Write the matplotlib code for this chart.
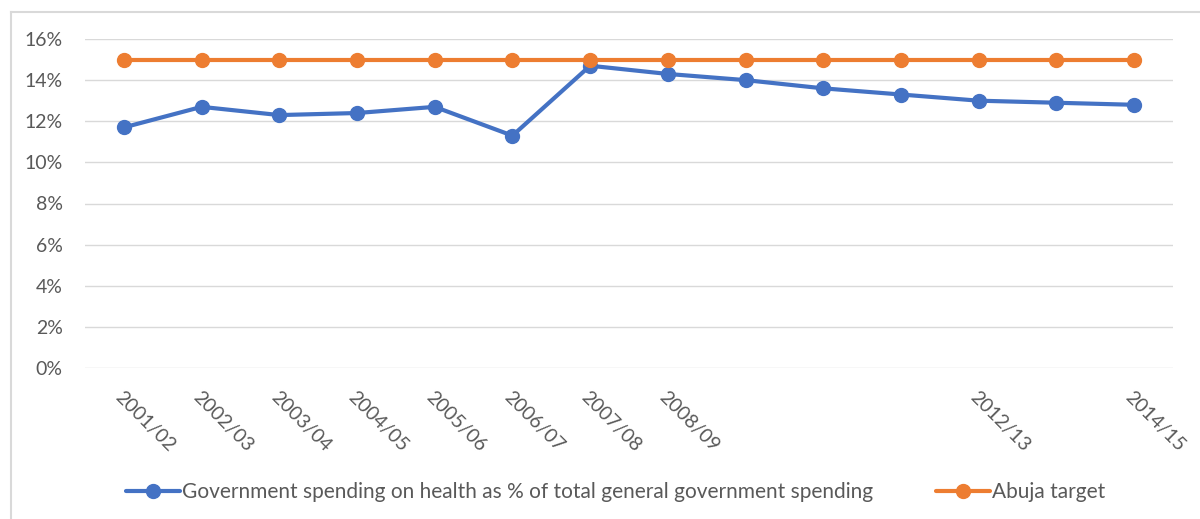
import matplotlib
matplotlib.use("Agg")
import matplotlib.pyplot as plt
from matplotlib.lines import Line2D
from matplotlib.ticker import FuncFormatter

plt.rcParams['font.family'] = ['Lato', 'DejaVu Sans']

categories = ["2001/02", "2002/03", "2003/04", "2004/05", "2005/06", "2006/07",
              "2007/08", "2008/09", "", "", "", "2012/13", "", "2014/15"]
gov_health = [11.7, 12.7, 12.3, 12.4, 12.7, 11.3, 14.7, 14.3, 14.0, 13.6,
              13.3, 13.0, 12.9, 12.8]
abuja = [15] * 14
series_names = ["Government spending on health as % of total general government spending",
                "Abuja target"]

blue = "#4472C4"
orange = "#ED7D31"
txt = "#595959"

fig = plt.figure(figsize=(12, 5.19), dpi=100)
ax = fig.add_axes([85/1200, 1-368/519, (1173-85)/1200, (368-39)/519])

x = list(range(len(categories)))
ax.plot(x, [v/100 for v in gov_health], color=blue, lw=3, marker='o', ms=10,
        label=series_names[0], solid_capstyle='round')
ax.plot(x, [v/100 for v in abuja], color=orange, lw=3, marker='o', ms=10,
        label=series_names[1], solid_capstyle='round')

ax.set_xlim(-0.5, len(categories)-0.5)
ax.set_ylim(0, 0.16)
ax.set_yticks([i/100 for i in range(0, 17, 2)])
ax.yaxis.set_major_formatter(FuncFormatter(lambda v, p: f"{round(v*100)}%"))
ax.set_xticks(x)
ax.set_xticklabels(categories, rotation=-45, ha='left', va='top',
                   rotation_mode='anchor')
ax.tick_params(axis='both', length=0, colors=txt, labelsize=14)
ax.tick_params(axis='x', pad=15)
ax.tick_params(axis='y', pad=16)
for s in ax.spines.values():
    s.set_visible(False)
ax.grid(axis='y', color='#D9D9D9', lw=1)
ax.set_axisbelow(True)

leg = fig.legend(loc='center', bbox_to_anchor=(0.513, 1-492/519), ncol=2,
                 frameon=False, fontsize=15, handlelength=2.6,
                 handletextpad=0.1, columnspacing=3.0)
for t in leg.get_texts():
    t.set_color(txt)

# chart border
fig.add_artist(Line2D([11/1200, 11/1200], [0, 1-12/519], transform=fig.transFigure,
                      color='#D9D9D9', lw=1.5))
fig.add_artist(Line2D([11/1200, 1], [1-12/519, 1-12/519], transform=fig.transFigure,
                      color='#D9D9D9', lw=1.5))

fig.savefig("out.png", dpi=100)
